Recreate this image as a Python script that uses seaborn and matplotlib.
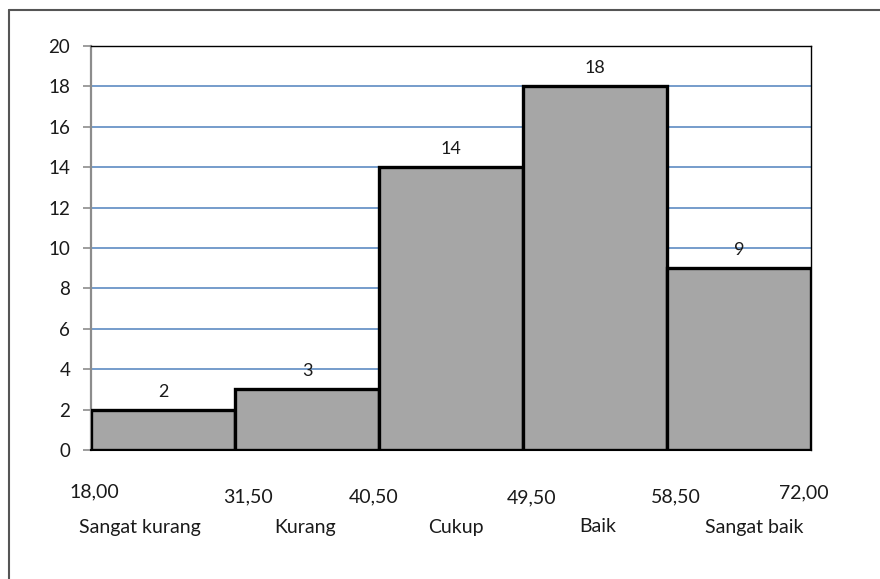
import matplotlib
matplotlib.use("Agg")
import matplotlib.pyplot as plt
import seaborn as sns
import pandas as pd
from matplotlib.lines import Line2D

# Frequency distribution of scores by category
categories = ["Sangat kurang", "Kurang", "Cukup", "Baik", "Sangat baik"]
counts = [2, 3, 14, 18, 9]
boundaries = ["18,00", "31,50", "40,50", "49,50", "58,50", "72,00"]
y_ticks = [0, 2, 4, 6, 8, 10, 12, 14, 16, 18, 20]

df = pd.DataFrame({"kategori": categories, "frekuensi": counts})

sns.set_theme(style="white")
plt.rcParams["font.family"] = ["Lato", "DejaVu Sans"]

fig = plt.figure(figsize=(8.8, 5.79), dpi=100)
ax = fig.add_axes([91 / 880, 1 - 450 / 579, 720 / 880, 404 / 579])

sns.barplot(data=df, x="kategori", y="frekuensi", color="#A6A6A6",
            width=1.0, saturation=1, edgecolor="black", linewidth=2.4,
            ax=ax, zorder=3)

ax.set_xlim(-0.5, len(categories) - 0.5)
ax.set_ylim(0, 20)
ax.set_yticks(y_ticks)
ax.set_yticklabels([str(t) for t in y_ticks], fontsize=13.5, color="#1a1a1a")
ax.set_xticks([])
ax.set_xlabel("")
ax.set_ylabel("")

# horizontal gridlines
for t in y_ticks[1:-1]:
    ax.axhline(t, color="#4F81BD", linewidth=1.1, zorder=1)

ax.tick_params(axis="y", direction="out", length=6, width=1.2,
               color="#8C8C8C", pad=9, left=True)
for side in ["top", "right"]:
    ax.spines[side].set_visible(True)
    ax.spines[side].set_color("#000000")
    ax.spines[side].set_linewidth(1.0)
ax.spines["left"].set_color("#8C8C8C")
ax.spines["left"].set_linewidth(1.6)
ax.spines["bottom"].set_color("#000000")
ax.spines["bottom"].set_linewidth(1.5)

# value labels above each bar
for i, v in enumerate(counts):
    ax.annotate(str(v), xy=(i, v), xytext=(0, 18), textcoords="offset pixels",
                ha="center", va="center", fontsize=13, color="#1a1a1a")

# class boundary labels under the bar edges
xf = ax.get_xaxis_transform()
bound_dx = [3, 13, -5, 9, 9, -7]
bound_dy = [-42, -47, -47, -48, -47, -43]
for j, lab in enumerate(boundaries):
    ax.annotate(lab, xy=(j - 0.5, 0), xycoords=xf,
                xytext=(bound_dx[j], bound_dy[j]), textcoords="offset pixels",
                ha="center", va="center", fontsize=14, color="#1a1a1a")

# category names beneath the boundaries
cat_dx = [-23, -2, 5, 3, 15]
for i, lab in enumerate(categories):
    ax.annotate(lab, xy=(i, 0), xycoords=xf,
                xytext=(cat_dx[i], -77), textcoords="offset pixels",
                ha="center", va="center", fontsize=14, color="#1a1a1a")

# chart-area frame (left and top edges visible)
fig.add_artist(Line2D([9 / 880, 9 / 880], [0, 1 - 10 / 579],
                      transform=fig.transFigure, color="#555555", linewidth=1.5))
fig.add_artist(Line2D([9 / 880, 1], [1 - 10 / 579, 1 - 10 / 579],
                      transform=fig.transFigure, color="#555555", linewidth=1.5))

fig.savefig("out.png", dpi=100)
